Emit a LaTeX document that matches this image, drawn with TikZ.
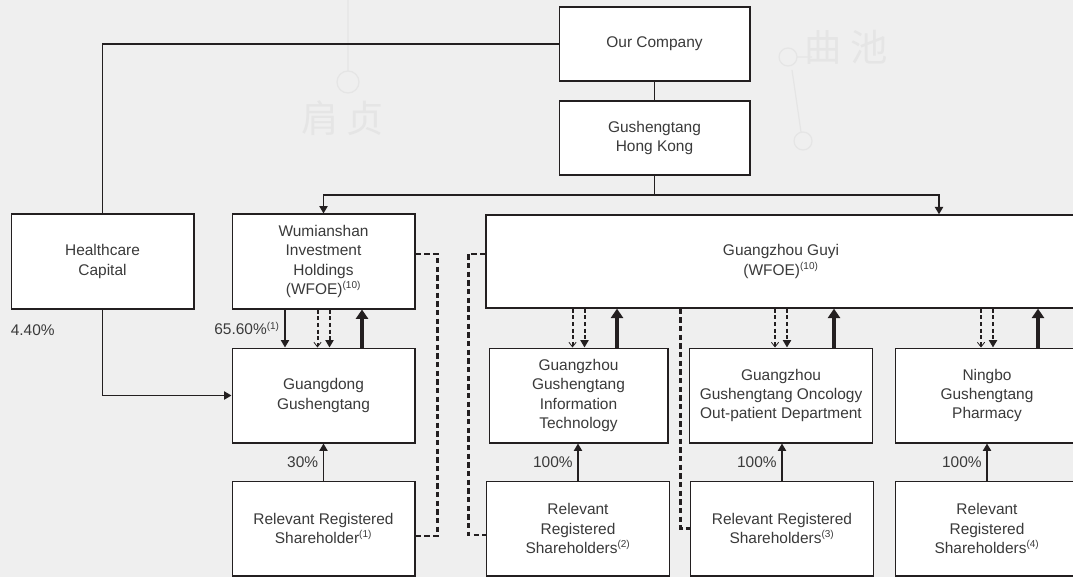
\documentclass[tikz,border=0pt]{standalone}
\usepackage{fontspec}
\setmainfont{Liberation Sans}
\newfontfamily\cjk{Noto Sans CJK SC}
\usetikzlibrary{arrows.meta, calc, positioning}

\definecolor{bg}{RGB}{239,239,239}
\definecolor{ink}{RGB}{35,31,32}
\definecolor{txt}{RGB}{58,58,58}
\definecolor{wmark}{RGB}{229,229,229}

\newcommand{\fn}[1]{\textsuperscript{\fontsize{7.5}{8}\selectfont(#1)}}

\tikzset{
  entity/.style={draw=ink, line width=1pt, fill=white, rectangle, align=center,
    minimum width=137pt, minimum height=71pt, inner sep=2pt, text=txt,
    font=\fontsize{11.6}{14.5}\selectfont},
  pct/.style={text=txt, font=\fontsize{11.6}{14.5}\selectfont},
  own/.style={draw=ink, line width=1.35pt},
  owns/.style={draw=ink, line width=3pt, -{Triangle[length=7pt,width=9pt]}},
  ctl/.style={draw=ink, line width=1.5pt, dash pattern=on 3pt off 2pt},
  vie/.style={draw=ink, line width=1.8pt, dash pattern=on 4pt off 2.5pt},
  wmtext/.style={text=wmark, font=\cjk\fontsize{28}{28}\selectfont},
  wmline/.style={draw=wmark, line width=0.9pt}
}

\begin{document}
\begin{tikzpicture}[x=0.75pt, y=-0.75pt, >={Triangle[length=5.5pt,width=6pt]}]
    \clip (0,0) rectangle (1073,577);
    \fill[bg] (0,0) rectangle (1073,577);

    % background watermark
    \path (343, 118) node[wmtext] (wm1) {肩\hspace{6pt}贞};
    \path (846, 47) node[wmtext] (wm2) {曲\hspace{6pt}池};
    \draw[wmline] (348,0) -- (348,71) (348,82) circle (11);
    \draw[wmline] (788,57) circle (9) (797,57) -- (812,57);
    \draw[wmline] (803,141) circle (9) (801,132) -- (792,70);

    % top of the group
    \path (654.5, 44)  node[entity, minimum width=143pt, minimum height=55.5pt] (company) {Our Company};
    \path (654.5, 138) node[entity, minimum width=143pt, minimum height=55.5pt] (hk) {Gushengtang\\Hong Kong};

    % second level
    \path (102.5, 261.5) node[entity] (hcap) {Healthcare\\Capital};
    \path (323.5, 261.5) node[entity] (wumian) {Wumianshan\\Investment\\Holdings\\(WFOE)\fn{10}};
    \path (781, 261.5)   node[entity, minimum width=442.5pt, minimum height=69.75pt] (guyi) {Guangzhou Guyi\\(WFOE)\fn{10}};

    % operating entities
    \path (323.5, 395.5) node[entity] (gdong) {Guangdong\\Gushengtang};
    \path (578.5, 395.5) node[entity, minimum width=134pt] (ggit) {Guangzhou\\Gushengtang\\Information\\Technology};
    \path (781, 395.5)   node[entity] (onco) {Guangzhou\\Gushengtang Oncology\\Out-patient Department};
    \path (987, 395.5)   node[entity] (ningbo) {Ningbo\\Gushengtang\\Pharmacy};

    % registered shareholders
    \path (323.5, 528.5) node[entity] (rrs1) {Relevant Registered\\Shareholder\fn{1}};
    \path (578, 528.5)   node[entity] (rrs2) {Relevant\\Registered\\Shareholders\fn{2}};
    \path (782, 528.5)   node[entity] (rrs3) {Relevant Registered\\Shareholders\fn{3}};
    \path (987, 528.5)   node[entity] (rrs4) {Relevant\\Registered\\Shareholders\fn{4}};

    % equity lines
    \draw[own] (company.west) -| (hcap.north);
    \draw[own] (company) -- (hk);
    \path (hk.south) ++(0,19) coordinate (fork);
    \path (guyi.north) ++(158,0) coordinate (gin);
    \draw[own] (hk.south) -- (fork);
    \draw[own, ->] (fork) -| (wumian.north);
    \draw[own, ->] (fork) -| (gin);
    \draw[own, ->] (hcap.south) |- (gdong.west);
    \path ($(hcap.south west)+(0,21)$) node[pct, anchor=west, inner sep=0pt] (p440) {4.40\%};

    \path (gdong.north) ++(-38.5,0) coordinate (w1);
    \draw[own, ->] (w1 |- wumian.south) -- (w1) node[pct, midway, left] (p656) {65.60\%\fn{1}};

    \draw[own, ->] (rrs1) -- (gdong) node[pct, midway, left] (p30) {30\%};
    \draw[own, ->] (rrs2.north) -- (rrs2.north |- ggit.south) node[pct, midway, left] (p100a) {100\%};
    \draw[own, ->] (rrs3.north) -- (rrs3.north |- onco.south) node[pct, midway, left] (p100b) {100\%};
    \draw[own, ->] (rrs4.north) -- (rrs4.north |- ningbo.south) node[pct, midway, left] (p100c) {100\%};

    % contractual arrangements
    \foreach \src/\dst/\off in {wumian/gdong/38.5, guyi/ggit/38.5, guyi/onco/53, guyi/ningbo/51} {
        \path (\dst.north) ++(-6,0) coordinate (po) ++(12,0) coordinate (ps);
        \path (\dst.north) ++(\off,0) coordinate (pu);
        \draw[ctl, -{Straight Barb[length=3.5pt,width=5.5pt,line width=0.6pt]}] (po |- \src.south) -- (po);
        \draw[ctl, ->] (ps |- \src.south) -- (ps);
        \draw[owns] (pu) -- (pu |- \src.south);
    }

    \draw[vie] (wumian.east) ++(0,-7.5) -- ++(22,0) |- ($(rrs1.east)+(0,7.5)$);
    \draw[vie] (guyi.west) ++(0,-7.5) -- ++(-17,0) |- ($(rrs2.west)+(0,6.5)$);
    \draw[vie] ($(guyi.south west)+(195,0)$) |- (rrs3.west);
\end{tikzpicture}
\end{document}
